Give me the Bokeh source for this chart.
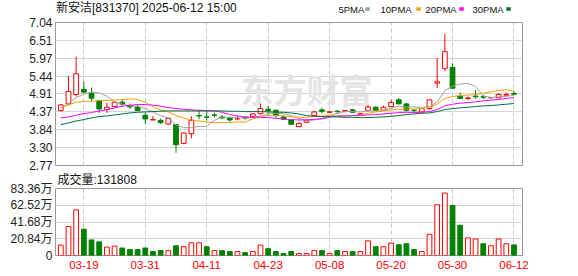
from bokeh.plotting import figure
from bokeh.layouts import column
from bokeh.models import Range1d, FixedTicker, Label, ColumnDataSource
from bokeh.core.properties import value
from bokeh.embed import file_html
from bokeh.resources import INLINE

# ---------------- data ----------------
dates = ["03-14","03-17","03-18","03-19","03-20","03-21","03-24","03-25","03-26","03-27","03-28","03-31",
         "04-01","04-02","04-03","04-07","04-08","04-09","04-10","04-11","04-14","04-15","04-16","04-17",
         "04-18","04-21","04-22","04-23","04-24","04-25","04-28","04-29","04-30",
         "05-06","05-07","05-08","05-09","05-12","05-13","05-14","05-15","05-16","05-19","05-20","05-21",
         "05-22","05-23","05-26","05-27","05-28","05-29","05-30",
         "06-03","06-04","06-05","06-06","06-09","06-10","06-11","06-12"]

opens = [4.41,4.61,4.89,5.04,4.93,4.70,4.44,4.53,4.66,4.56,
         4.52,4.27,4.13,4.12,4.01,3.99,3.43,3.72,4.26,4.22,
         4.28,4.22,4.19,4.16,4.20,4.24,4.32,4.45,4.42,4.22,
         4.13,3.93,4.06,4.26,4.43,4.36,4.39,4.39,4.43,4.30,
         4.41,4.51,4.42,4.53,4.73,4.61,4.42,4.37,4.47,5.23,
         5.67,5.70,4.84,4.77,4.84,4.82,4.79,4.79,4.87,4.92]
highs = [4.61,5.44,6.02,5.28,5.10,4.74,4.64,4.68,4.76,4.62,
         4.58,4.35,4.25,4.17,4.19,4.01,3.76,4.24,4.40,4.40,
         4.35,4.28,4.22,4.25,4.23,4.33,4.62,4.55,4.44,4.27,
         4.14,4.05,4.15,4.40,4.49,4.40,4.43,4.43,4.46,4.34,
         4.57,4.53,4.56,4.73,4.78,4.63,4.45,4.48,4.76,5.98,
         6.70,5.82,4.95,4.83,5.02,4.88,4.82,4.93,4.95,5.00]
lows = [4.38,4.60,4.83,4.96,4.68,4.34,4.34,4.52,4.54,4.46,
        4.40,4.01,4.13,4.01,3.98,3.15,3.41,3.58,4.15,4.12,
        4.20,4.15,4.07,4.12,4.14,4.19,4.29,4.29,4.20,4.14,
        3.99,3.92,4.03,4.24,4.33,4.33,4.32,4.36,4.34,4.28,
        4.39,4.40,4.40,4.52,4.60,4.39,4.36,4.36,4.44,5.08,
        5.59,5.06,4.76,4.72,4.76,4.75,4.77,4.78,4.83,4.88]
closes = [4.58,4.98,5.51,4.96,4.78,4.46,4.51,4.66,4.60,4.52,
          4.41,4.16,4.14,4.05,4.18,3.39,3.74,4.12,4.25,4.21,
          4.27,4.19,4.13,4.17,4.19,4.31,4.47,4.40,4.26,4.15,
          4.00,4.03,4.12,4.37,4.39,4.37,4.38,4.41,4.36,4.32,
          4.52,4.41,4.51,4.65,4.61,4.42,4.41,4.47,4.73,5.27,
          6.17,5.08,4.77,4.79,4.82,4.81,4.80,4.89,4.89,4.90]

ma5 = [4.48,4.62,4.80,4.90,4.96,4.94,4.84,4.67,4.60,4.55,
       4.54,4.47,4.37,4.26,4.19,3.98,3.90,3.90,3.94,3.94,
       4.12,4.21,4.21,4.19,4.19,4.20,4.25,4.31,4.33,4.32,
       4.26,4.17,4.11,4.13,4.18,4.26,4.33,4.38,4.38,4.37,
       4.40,4.40,4.42,4.48,4.54,4.52,4.52,4.51,4.53,4.66,
       5.01,5.14,5.20,5.22,5.13,4.85,4.80,4.82,4.84,4.86]
ma10 = [4.50,4.58,4.66,4.68,4.69,4.71,4.71,4.73,4.73,4.76,
        4.74,4.66,4.52,4.43,4.37,4.26,4.19,4.13,4.10,4.07,
        4.05,4.05,4.05,4.07,4.07,4.16,4.23,4.26,4.26,4.25,
        4.23,4.21,4.21,4.23,4.25,4.26,4.25,4.25,4.26,4.28,
        4.33,4.37,4.40,4.43,4.45,4.46,4.46,4.47,4.51,4.60,
        4.77,4.83,4.86,4.87,4.89,4.93,4.97,5.01,5.03,4.99]
ma20 = [4.19,4.22,4.27,4.32,4.35,4.40,4.44,4.49,4.54,4.57,
        4.59,4.59,4.57,4.54,4.50,4.47,4.45,4.43,4.42,4.41,
        4.40,4.36,4.29,4.25,4.22,4.21,4.21,4.20,4.18,4.16,
        4.14,4.13,4.13,4.15,4.16,4.21,4.24,4.25,4.26,4.26,
        4.28,4.29,4.31,4.33,4.35,4.36,4.35,4.36,4.38,4.44,
        4.55,4.60,4.63,4.65,4.67,4.70,4.72,4.74,4.77,4.80]
ma30 = [3.99,4.04,4.10,4.14,4.19,4.23,4.25,4.28,4.31,4.34,
        4.36,4.37,4.38,4.39,4.40,4.40,4.40,4.40,4.40,4.40,
        4.40,4.40,4.39,4.39,4.38,4.38,4.38,4.37,4.36,4.36,
        4.34,4.31,4.26,4.24,4.23,4.23,4.22,4.21,4.21,4.20,
        4.20,4.21,4.22,4.24,4.26,4.29,4.31,4.33,4.34,4.38,
        4.44,4.47,4.49,4.51,4.53,4.55,4.56,4.58,4.60,4.62]

# volume in 万 (10k shares); 1 = red (up), 0 = green (down)
volume_wan = [12.9,36.0,56.7,32.8,19.4,17.0,10.5,11.7,9.3,7.3,
              7.3,9.3,4.9,6.1,6.1,12.1,10.9,15.8,15.8,10.9,
              6.1,6.1,4.9,4.9,3.6,4.9,12.9,8.5,4.9,2.4,
              4.9,2.4,2.4,6.1,6.1,2.4,6.1,4.9,4.9,4.9,
              18.2,10.9,10.9,15.4,13.4,14.6,7.3,4.9,26.3,63.1,
              77.7,62.3,37.6,21.9,20.6,14.6,12.1,20.6,14.6,13.18]
volume_up = [1,1,1,0,0,0,1,1,0,0,
             0,0,0,0,1,0,1,1,1,0,
             1,0,0,1,0,1,1,0,0,0,
             0,1,1,1,0,1,0,1,0,1,
             1,0,1,1,0,0,0,1,1,1,
             1,0,0,1,1,0,1,1,1,0]

price_tick_labels = ["2.77","3.30","3.84","4.37","4.91","5.44","5.97","6.51","7.04"]
vol_tick_values = [0, 20.84, 41.68, 62.52, 83.36]
vol_tick_labels = ["0","20.84万","41.68万","62.52万","83.36万"]
date_tick_labels = ["03-19","03-31","04-11","04-23","05-08","05-20","05-30","06-12"]

title_text = "新安洁[831370] 2025-06-12 15:00"
vol_title = "成交量:131808"
legend_names = ["5PMA","10PMA","20PMA","30PMA"]

# ---------------- styling ----------------
RED = "#ff0000"
GREEN = "#008000"
MA_COLORS = ["#a0a0a0", "#f0a30a", "#ff00ff", "#00703c"]
GRID = "#d4d4d4"
VGRID = "#c8c8c8"
BORDER = "#999999"
LABEL = "#222222"
TXT = "#111111"
SANS = "Liberation Sans, Noto Sans CJK SC"
W = 578
LEFT, RIGHT = 55, 56

x = list(range(len(dates)))
xr = Range1d(-0.69, 60.11)
date_ticks = [dates.index(d) for d in date_tick_labels]
price_ticks = [float(s) for s in price_tick_labels]

up = [c >= o for o, c in zip(opens, closes)]
src = ColumnDataSource(dict(
    x=x, h=highs, l=lows,
    top=[max(o, c) for o, c in zip(opens, closes)],
    bot=[min(o, c) for o, c in zip(opens, closes)],
    col=[RED if u else GREEN for u in up],
    fill=["#ffffff" if u else GREEN for u in up],
))
vsrc = ColumnDataSource(dict(
    x=x, v=volume_wan,
    col=[RED if u else GREEN for u in volume_up],
    fill=["#ffffff" if u else GREEN for u in volume_up],
))


def style(p):
    p.outline_line_color = BORDER
    p.outline_line_width = 1
    p.background_fill_color = "white"
    p.border_fill_color = "white"
    ya = p.yaxis[0]
    ya.axis_line_color = None
    ya.major_tick_line_color = None
    ya.minor_tick_line_color = None
    ya.major_tick_out = 0
    ya.major_tick_in = 0
    ya.major_label_standoff = 3
    ya.major_label_text_font = SANS
    ya.major_label_text_font_size = "12px"
    ya.major_label_text_color = LABEL
    p.xgrid[0].ticker = FixedTicker(ticks=date_ticks)
    p.xgrid[0].grid_line_color = VGRID
    p.xgrid[0].grid_line_dash = "4 3"
    p.ygrid[0].grid_line_color = GRID


# ---------------- header strip (title + MA legend), frame aligned with the panels ----------------
hdr = figure(width=W, height=15, output_backend="svg", toolbar_location=None,
             x_range=Range1d(LEFT, W - RIGHT), y_range=Range1d(15, 0),
             min_border_left=LEFT, min_border_right=RIGHT, min_border_top=0, min_border_bottom=0)
hdr.xaxis.visible = False
hdr.yaxis.visible = False
hdr.xgrid.visible = False
hdr.ygrid.visible = False
hdr.outline_line_color = None
hdr.background_fill_color = "white"
hdr.border_fill_color = "white"
hdr.text(x=[55.5], y=[7.7], text=[title_text], text_font=value(SANS),
         text_font_size="12px", text_color=TXT, text_baseline="middle")
leg_x = [338, 380, 425, 472]
box_x = [367, 418, 461, 508]
hdr.text(x=leg_x, y=[8.6] * 4, text=legend_names, text_font=value("Liberation Sans"),
         text_font_size="9.5px", text_color=TXT, text_baseline="middle")
hdr.rect(x=box_x, y=[8.4] * 4, width=4.5, height=3.5, fill_color=MA_COLORS,
         line_color=None)

# ---------------- price panel ----------------
p1 = figure(width=W, height=157, output_backend="svg", toolbar_location=None,
            x_range=xr, y_range=Range1d(price_ticks[0], price_ticks[-1]),
            min_border_left=LEFT, min_border_right=RIGHT, min_border_top=7, min_border_bottom=7)
style(p1)
p1.xaxis.visible = False
p1.yaxis[0].ticker = FixedTicker(ticks=price_ticks)
p1.yaxis[0].major_label_overrides = {t: s for t, s in zip(price_ticks, price_tick_labels)}
p1.ygrid[0].ticker = FixedTicker(ticks=price_ticks)

wm = Label(x=23.4, y=5.04, text="东方财富", text_font="Noto Sans CJK SC", text_font_style="bold",
           text_font_size="33px", text_color="#e4e4e4", text_baseline="middle", text_align="left",
           level="underlay")
p1.add_layout(wm)

p1.segment(x0="x", y0="l", x1="x", y1="h", line_color="col", line_width=1, source=src)
p1.vbar(x="x", top="top", bottom="bot", width=0.62, fill_color="fill", line_color="col",
        line_width=1, source=src)
for ma, c in zip([ma5, ma10, ma20, ma30], MA_COLORS):
    p1.line(x, ma, line_color=c, line_width=1)

# ---------------- volume panel ----------------
p2 = figure(width=W, height=104, output_backend="svg", toolbar_location=None,
            x_range=xr, y_range=Range1d(0, vol_tick_values[-1]),
            min_border_left=LEFT, min_border_right=RIGHT, min_border_top=15, min_border_bottom=21)
style(p2)
p2.title.text = vol_title
p2.title.align = "left"
p2.title.vertical_align = "top"
p2.title.offset = 2
p2.title.standoff = 0
p2.title.text_font = SANS
p2.title.text_font_size = "12px"
p2.title.text_font_style = "normal"
p2.title.text_color = TXT
p2.yaxis[0].ticker = FixedTicker(ticks=vol_tick_values)
p2.yaxis[0].major_label_overrides = {t: s for t, s in zip(vol_tick_values, vol_tick_labels)}
p2.ygrid[0].ticker = FixedTicker(ticks=vol_tick_values)
xa = p2.xaxis[0]
xa.ticker = FixedTicker(ticks=date_ticks)
xa.major_label_overrides = {t: s for t, s in zip(date_ticks, date_tick_labels)}
xa.axis_line_color = None
xa.major_tick_line_color = None
xa.minor_tick_line_color = None
xa.major_tick_out = 0
xa.major_tick_in = 0
xa.major_label_standoff = 5
xa.major_label_text_font = "Liberation Sans"
xa.major_label_text_font_size = "11.5px"
xa.major_label_text_color = RED

p2.vbar(x="x", top="v", bottom=0, width=0.62, fill_color="fill", line_color="col",
        line_width=1, source=vsrc)

layout = column(hdr, p1, p2, spacing=0)
open("out.html", "w").write(file_html(layout, INLINE))
